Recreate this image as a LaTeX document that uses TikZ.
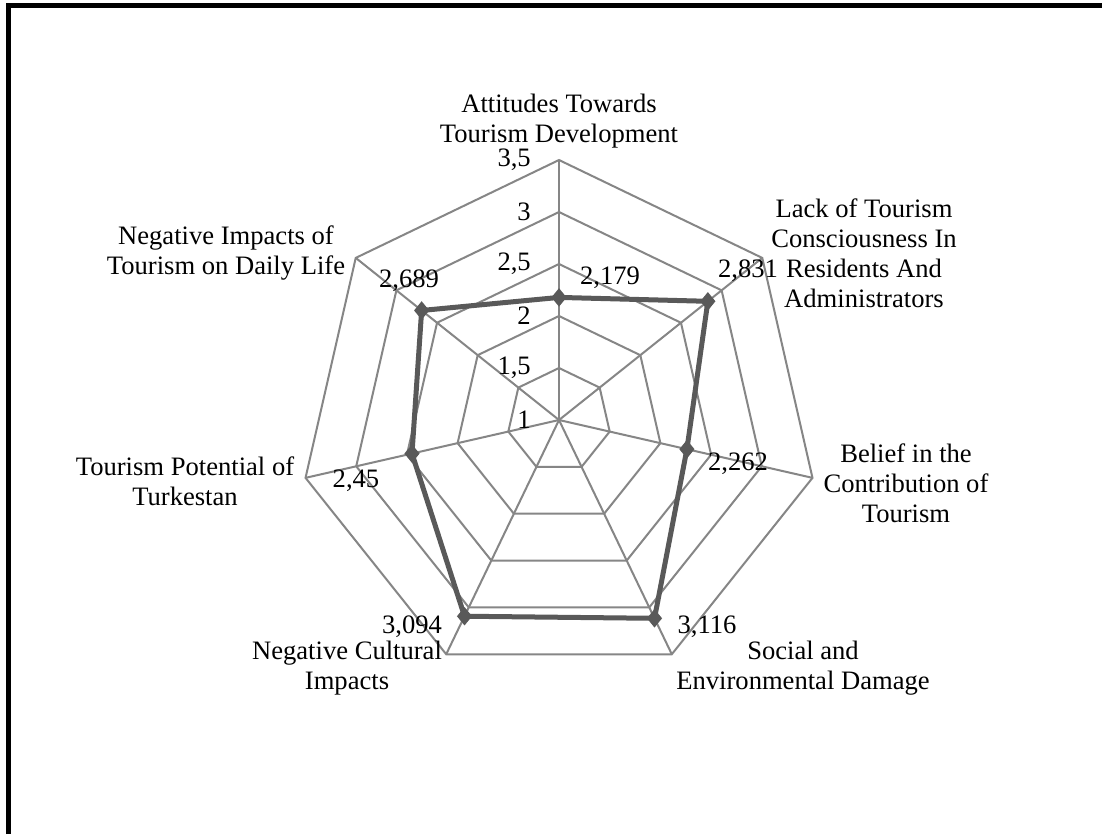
\documentclass[tikz,border=0pt]{standalone}
\usepackage{fontspec}
\setmainfont{Liberation Serif}
\usetikzlibrary{shapes.geometric}
\definecolor{gridgray}{RGB}{134,134,134}
\definecolor{datagray}{RGB}{89,89,89}
\tikzset{
  gridline/.style={draw=gridgray, line width=0.06cm, line join=miter},
  dataline/.style={draw=datagray, line width=0.15cm, line join=round},
  marker/.style={diamond, fill=datagray, inner sep=0pt, minimum width=0.46cm, minimum height=0.56cm},
  axislabel/.style={align=center, font=\fontsize{22.7}{25.5}\selectfont, inner sep=0pt},
  valuelabel/.style={font=\fontsize{22.7}{25.5}\selectfont, inner sep=0pt},
  ticklabel/.style={font=\fontsize{22.7}{25.5}\selectfont, inner sep=0pt, anchor=east}
}
\begin{document}
\begin{tikzpicture}[x=0.03cm,y=0.03cm]
\useasboundingbox (0,0) rectangle (1102,-834);
\fill[white] (-10,10) rectangle (1112,-844);
\draw[black, line width=0.13cm] (8.5,-834) -- (8.5,-5.5) -- (1102,-5.5);
\begin{scope}[shift={(559,-420)}]
\foreach \r in {52,104,156,208,260}
  \draw[gridline] (90:\r) -- (38.571:\r) -- (-12.857:\r) -- (-64.286:\r) -- (-115.714:\r) -- (-167.143:\r) -- (141.429:\r) -- cycle;
\foreach \a in {38.571,-12.857,-64.286,-115.714,-167.143,141.429}
  \draw[gridline] (0,0) -- (\a:260);
\draw[gridline, line width=0.08cm] (0,0) -- (90:260);
\node[ticklabel] (t1) at (-28,0) {1};
\node[ticklabel] (t15) at (-28,52) {1,5};
\node[ticklabel] (t2) at (-28,104) {2};
\node[ticklabel] (t25) at (-28,156) {2,5};
\node[ticklabel] (t3) at (-28,208) {3};
\node[ticklabel] (t35) at (-28,260) {3,5};
\node[marker] (m1) at (90:122.6) {};
\node[marker] (m2) at (38.571:190.4) {};
\node[marker] (m3) at (-12.857:131.2) {};
\node[marker] (m4) at (-64.286:220.1) {};
\node[marker] (m5) at (-115.714:217.8) {};
\node[marker] (m6) at (-167.143:150.8) {};
\node[marker] (m7) at (141.429:175.7) {};
\draw[dataline] (m1.center) -- (m2.center) -- (m3.center) -- (m4.center) -- (m5.center) -- (m6.center) -- (m7.center) -- cycle;
\end{scope}
\node[valuelabel] (v1) at (610,-278) {2,179};
\node[valuelabel] (v2) at (748,-271) {2,831};
\node[valuelabel] (v3) at (738,-464) {2,262};
\node[valuelabel] (v4) at (707,-627) {3,116};
\node[valuelabel] (v5) at (412,-627) {3,094};
\node[valuelabel] (v6) at (356,-481) {2,45};
\node[valuelabel] (v7) at (409,-281) {2,689};
\node[axislabel] (a1) at (559,-121) {Attitudes Towards\\Tourism Development};
\node[axislabel] (a2) at (864,-253) {Lack of Tourism\\Consciousness In\\Residents And\\Administrators};
\node[axislabel] (a3) at (906,-483) {Belief in the\\Contribution of\\Tourism};
\node[axislabel] (a4) at (803,-668) {Social and\\Environmental Damage};
\node[axislabel] (a5) at (347,-668) {Negative Cultural\\Impacts};
\node[axislabel] (a6) at (185,-481) {Tourism Potential of\\Turkestan};
\node[axislabel] (a7) at (226,-253) {Negative Impacts of\\Tourism on Daily Life};
\end{tikzpicture}
\end{document}
